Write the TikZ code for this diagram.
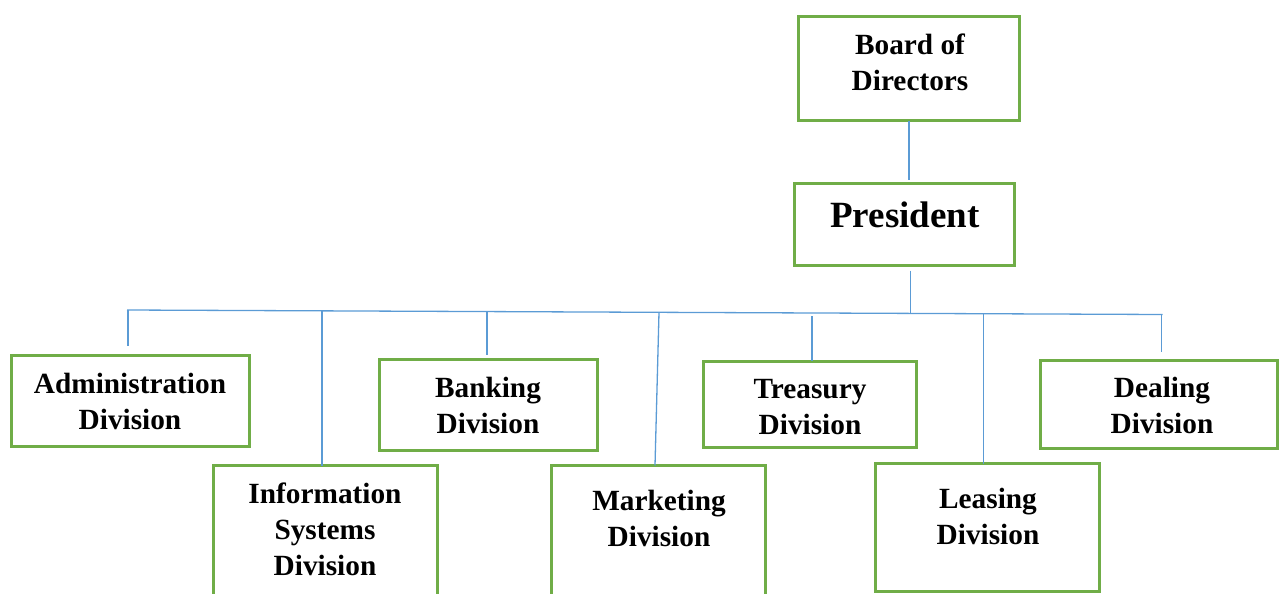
\documentclass[tikz,border=0pt]{standalone}
\usepackage{fontspec}
\setmainfont{Liberation Serif}
\definecolor{boxgreen}{HTML}{70AD47}
\definecolor{lineblue}{HTML}{5B9BD5}
\begin{document}
\begin{tikzpicture}[x=1pt,y=-1pt,
  orgbox/.style={draw=boxgreen, line width=3pt, rectangle, inner sep=0pt, outer sep=0pt},
  lbl/.style={align=center, inner sep=0pt, font=\bfseries\fontsize{29.3}{36}\selectfont},
  conn/.style={draw=lineblue, line width=1.3pt}]
\useasboundingbox (0,0) rectangle (1279,594);
% boxes
\node[orgbox, minimum width=221pt, minimum height=104pt] (board) at (909,68.5) {};
\node[orgbox, minimum width=220pt, minimum height=82pt] (pres) at (904.5,224.5) {};
\node[orgbox, minimum width=238pt, minimum height=91pt] (admin) at (130.5,401) {};
\node[orgbox, minimum width=224pt, minimum height=200pt] (info) at (325.5,565.5) {};
\node[orgbox, minimum width=218pt, minimum height=91pt] (bank) at (488.5,405) {};
\node[orgbox, minimum width=214pt, minimum height=200pt] (mkt) at (658.5,565.5) {};
\node[orgbox, minimum width=213pt, minimum height=86pt] (treas) at (810,404.5) {};
\node[orgbox, minimum width=224pt, minimum height=128pt] (leas) at (987.5,527.5) {};
\node[orgbox, minimum width=237pt, minimum height=88pt] (deal) at (1159,404.5) {};
% labels
\node[lbl] (boardT) at (910,62) {Board of\\Directors};
\node[lbl, font=\bfseries\fontsize{37}{44}\selectfont] (presT) at (905,215) {President};
\node[lbl] (adminT) at (130,401) {Administration\\Division};
\node[lbl] (infoT) at (325,529.5) {Information\\Systems\\Division};
\node[lbl] (bankT) at (488,405) {Banking\\Division};
\node[lbl] (mktT) at (659,518.5) {Marketing\\Division};
\node[lbl] (treasT) at (810,407) {Treasury\\Division};
\node[lbl] (leasT) at (988,516) {Leasing\\Division};
\node[lbl] (dealT) at (1162,405) {Dealing\\Division};
% bus coordinates
\coordinate (bA) at (128,310);
\coordinate (bI) at (322,310.8);
\coordinate (bB) at (487,311.6);
\coordinate (bM) at (659,312.3);
\coordinate (bT) at (812,313);
\coordinate (bP) at (910.5,313.4);
\coordinate (bL) at (983.5,313.7);
\coordinate (bD) at (1161.5,314.5);
\coordinate (busL) at (127,310);
\coordinate (busR) at (1162.5,314.5);
% connectors
\draw[conn] (busL) -- (busR);
\draw[conn, shorten <=4pt] (pres.north -| board.south) -- (board.south);
\draw[conn, shorten <=5pt] (pres.south -| bP) -- (bP);
\draw[conn, shorten <=10pt] (admin.north -| bA) -- (bA);
\draw[conn] (info.north -| bI) -- (bI);
\draw[conn, shorten <=5pt] (bank.north -| bB) -- (bB);
\draw[conn] (mkt.north -| 655,0) -- (bM);
\draw[conn, shorten <=1pt, shorten >=3pt] (treas.north -| bT) -- (bT);
\draw[conn] (leas.north -| bL) -- (bL);
\draw[conn, shorten <=9pt] (deal.north -| bD) -- (bD);
\end{tikzpicture}
\end{document}
